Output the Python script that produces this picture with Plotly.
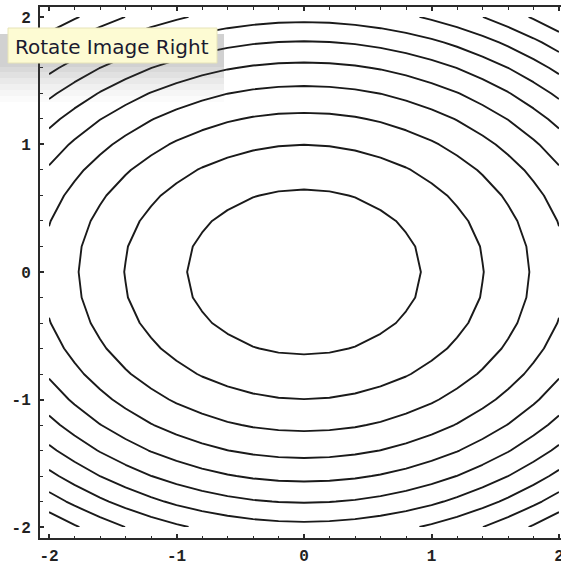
import numpy as np
import plotly.graph_objects as go

# ---- data ----
grid_x = [-2.0, -1.8, -1.6, -1.4, -1.2, -1.0, -0.8, -0.6, -0.4, -0.2, 0.0,
          0.2, 0.4, 0.6, 0.8, 1.0, 1.2, 1.4, 1.6, 1.8, 2.0]
grid_y = list(grid_x)
y_weight = 2.0                      # surface: x^2 + 2 y^2
contour_levels = [0.85, 1.99, 3.13, 4.27, 5.41, 6.55, 7.69, 8.83, 9.97, 11.11]
tick_vals = [-2, -1, 0, 1, 2]
tick_text = ["-2", "-1", "0", "1", "2"]
tooltip_text = "Rotate Image Right"

X, Y = np.meshgrid(np.array(grid_x), np.array(grid_y))
Z = X ** 2 + y_weight * Y ** 2

W, H = 561, 566
ML, MR, MT, MB = 40, 0, 7, 28
PW, PH = W - ML - MR, H - MT - MB


def px(xp):
    return (xp - ML) / PW


def py(yp):
    return (H - MB - yp) / PH


step = contour_levels[1] - contour_levels[0]
fig = go.Figure(go.Contour(
    x=grid_x, y=grid_y, z=Z,
    contours=dict(coloring="none", start=contour_levels[0],
                  end=contour_levels[-1] + step / 10, size=step),
    line=dict(color="#1a1a1a", width=1.9, smoothing=0),
    showscale=False, hoverinfo="skip",
))

axis_common = dict(
    showgrid=False, zeroline=False, showline=True, linecolor="#2a2a2a",
    linewidth=2, ticks="inside", ticklen=4, tickwidth=1.5, tickcolor="#2a2a2a",
    tickmode="array", tickvals=tick_vals, ticktext=tick_text,
    ticklabeloverflow="allow", automargin=False,
    tickfont=dict(family="Liberation Mono", size=16, color="#222", weight="bold"),
    minor=dict(tickmode="linear", tick0=0, dtick=0.2, ticks="inside",
               ticklen=2.5, tickwidth=1.3, tickcolor="#2a2a2a", showgrid=False),
)

fig.update_xaxes(range=[-2.0706, 2.0157], mirror="ticks", ticklabelstandoff=2,
                 **axis_common)
fig.update_yaxes(range=[-2.086, 2.078], mirror=False, ticklabelstandoff=4,
                 **axis_common)

shapes = []
# tooltip shadow (soft gradient)
for y_end, op in [(102, 0.025), (96, 0.03), (90, 0.035), (84, 0.04),
                  (78, 0.045), (72, 0.05), (67, 0.06)]:
    shapes.append(dict(type="rect", xref="paper", yref="paper",
                       x0=px(0), x1=px(224), y0=py(y_end), y1=py(34),
                       fillcolor="rgba(80,80,80,%s)" % op, line=dict(width=0),
                       layer="above"))
# tooltip box
shapes.append(dict(type="rect", xref="paper", yref="paper",
                   x0=px(8), x1=px(217), y0=py(63), y1=py(28),
                   fillcolor="#fdfbd3", line=dict(color="#e6e3b8", width=1),
                   layer="above"))

fig.update_layout(
    width=W, height=H,
    margin=dict(l=ML, r=MR, t=MT, b=MB, autoexpand=False),
    paper_bgcolor="white", plot_bgcolor="white",
    showlegend=False,
    shapes=shapes,
    annotations=[dict(text=tooltip_text, xref="paper", yref="paper",
                      x=px(13), y=py(47), xanchor="left", yanchor="middle",
                      showarrow=False,
                      font=dict(family="DejaVu Sans", size=20, color="#1a1a30"))],
)

fig.write_html(
    "out.html",
    config={"displayModeBar": False},
    post_script="document.body.style.margin='0';"
                "document.body.style.overflow='hidden';",
)
